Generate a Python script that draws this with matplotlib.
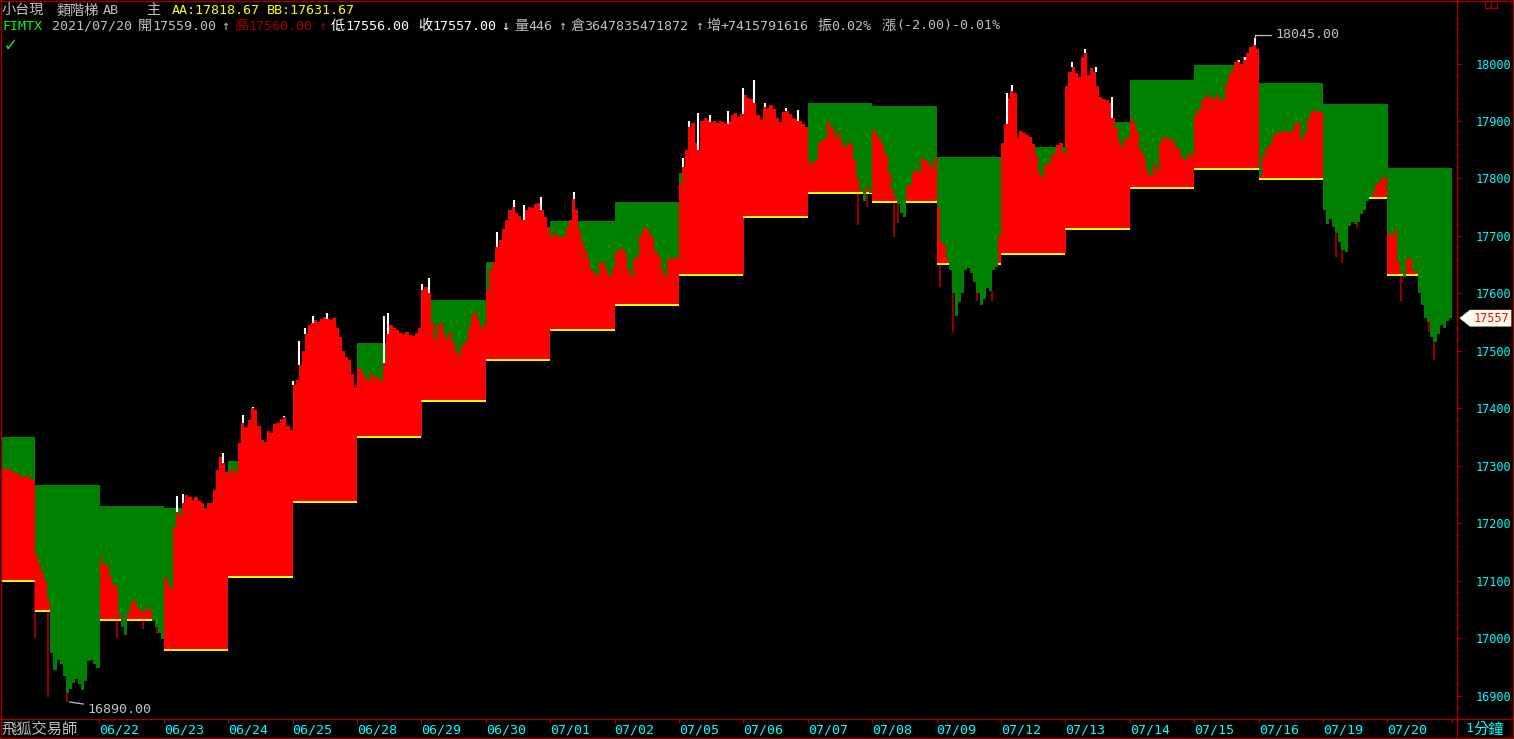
import numpy as np
import matplotlib
matplotlib.use("Agg")
import matplotlib.pyplot as plt
from matplotlib import font_manager as fm
from matplotlib.lines import Line2D
from matplotlib.patches import Polygon, Rectangle

# ---------------- data ----------------
dates = ['06/22', '06/23', '06/24', '06/25', '06/28', '06/29', '06/30', '07/01', '07/02',
         '07/05', '07/06', '07/07', '07/08', '07/09', '07/12', '07/13', '07/14', '07/15',
         '07/16', '07/19', '07/20']

aa_levels = [17350, 17266, 17231, 17226, 17309, 17430, 17513, 17588, 17655, 17726, 17759,
             17809, 17860, 17932, 17926, 17837, 17854, 17898, 17971, 17997, 17966, 17929, 17818.67]
bb_levels = [17100, 17048, 17032, 16979, 17106, 17237, 17350, 17413, 17484, 17536, 17580,
             17632, 17733, 17775, 17759, 17651, 17669, 17712, 17783, 17816, 17799, 17766, 17631.67]

c00 = [17294, 17294, 17290, 17286, 17281, 17283, 17276]
c01 = [17145, 17130, 17115, 17100, 17065, 16975, 16945, 16962, 16955, 16935, 16905, 16912, 16922, 16930, 16920, 16910, 16925, 16960, 16962, 16955, 16948]
c02 = [17142, 17130, 17125, 17107, 17095, 17090, 17040, 17020, 17005, 17044, 17060, 17067, 17055, 17050, 17046, 17055, 17050, 17030, 17020, 17010, 16998]
c03 = [17107, 17095, 17085, 17194, 17220, 17212, 17235, 17250, 17245, 17240, 17246, 17238, 17235, 17225, 17235, 17236, 17258, 17293, 17315, 17305, 17290]
c04 = [17290, 17297, 17288, 17340, 17375, 17368, 17380, 17400, 17397, 17370, 17345, 17342, 17360, 17357, 17372, 17375, 17382, 17385, 17370, 17362]
c05 = [17440, 17449, 17475, 17500, 17530, 17545, 17548, 17553, 17550, 17555, 17559, 17556, 17553, 17558, 17540, 17525, 17500, 17490, 17484, 17460, 17437]
c06 = [17470, 17467, 17455, 17448, 17461, 17452, 17455, 17448, 17479, 17530, 17545, 17540, 17536, 17532, 17530, 17533, 17528, 17526, 17532, 17540]
c07 = [17606, 17612, 17600, 17548, 17520, 17545, 17548, 17530, 17520, 17533, 17515, 17500, 17492, 17510, 17518, 17540, 17560, 17568, 17553, 17540, 17545]
c08 = [17606, 17640, 17653, 17680, 17693, 17712, 17728, 17745, 17750, 17740, 17735, 17728, 17745, 17750, 17748, 17755, 17757, 17745, 17733, 17715]
c09 = [17698, 17705, 17702, 17698, 17700, 17716, 17728, 17765, 17745, 17710, 17690, 17675, 17660, 17641, 17635, 17630, 17655, 17653, 17640, 17630, 17645]
c10 = [17672, 17675, 17679, 17670, 17640, 17630, 17660, 17664, 17700, 17710, 17713, 17705, 17698, 17672, 17664, 17640, 17630, 17658, 17664, 17660, 17662]
c11 = [17790, 17820, 17850, 17890, 17896, 17862, 17850, 17900, 17905, 17902, 17898, 17900, 17896, 17900, 17898, 17895, 17900, 17910, 17914, 17907, 17912]
c12 = [17945, 17940, 17938, 17932, 17910, 17902, 17925, 17922, 17928, 17920, 17905, 17898, 17915, 17917, 17912, 17906, 17903, 17900, 17895, 17890]
c13 = [17830, 17826, 17832, 17861, 17867, 17870, 17898, 17890, 17872, 17881, 17867, 17855, 17862, 17860, 17832, 17800, 17778, 17760, 17785, 17775]
c14 = [17885, 17875, 17870, 17860, 17843, 17810, 17780, 17768, 17755, 17740, 17733, 17785, 17791, 17809, 17815, 17812, 17835, 17832, 17828, 17820, 17835]
c15 = [17750, 17690, 17685, 17660, 17640, 17600, 17560, 17585, 17600, 17640, 17645, 17635, 17620, 17600, 17580, 17590, 17610, 17605, 17640, 17646, 17700]
c16 = [17862, 17895, 17940, 17953, 17948, 17870, 17882, 17879, 17875, 17872, 17860, 17840, 17810, 17803, 17826, 17826, 17838, 17844, 17858, 17861, 17845]
c17 = [17960, 17985, 17994, 17983, 17977, 18011, 18018, 17980, 17992, 17985, 17960, 17942, 17938, 17936, 17931, 17905, 17890, 17865, 17855, 17868, 17870]
c18 = [17904, 17895, 17880, 17850, 17838, 17815, 17805, 17825, 17815, 17862, 17872, 17870, 17868, 17865, 17855, 17849, 17835, 17832, 17845, 17840]
c19 = [17910, 17919, 17936, 17942, 17945, 17940, 17938, 17945, 17935, 17938, 17965, 17980, 17989, 18003, 18006, 18000, 18011, 18018, 18028, 18032, 18025]
c20 = [17805, 17838, 17852, 17858, 17872, 17879, 17880, 17881, 17882, 17880, 17883, 17895, 17898, 17870, 17880, 17903, 17915, 17919, 17916, 17915]
c21 = [17745, 17720, 17730, 17716, 17705, 17690, 17675, 17672, 17718, 17725, 17720, 17725, 17738, 17745, 17760, 17768, 17775, 17790, 17794, 17800, 17805]
c22 = [17705, 17700, 17710, 17655, 17635, 17628, 17662, 17660, 17640, 17638, 17600, 17580, 17558, 17550, 17525, 17515, 17530, 17545, 17540, 17552, 17557]

segments = [c00, c01, c02, c03, c04, c05, c06, c07, c08, c09, c10, c11, c12, c13, c14,
            c15, c16, c17, c18, c19, c20, c21, c22]

# upper shadows (white) and lower shadows (dark red) seen on the chart: position in days, price
wick_hi_day = [2.200, 2.298, 2.919, 3.230, 3.385, 3.866, 4.002, 4.099, 4.193, 4.317, 4.529,
               5.419, 5.481, 6.005, 6.113, 7.169, 7.438, 7.593, 7.853, 8.370, 10.062, 10.155,
               10.295, 10.481, 10.761, 10.998, 11.165, 11.335, 11.661, 11.852, 15.088, 15.166,
               16.098, 16.304, 16.475, 16.719, 18.696, 18.789, 18.944]
wick_hi = [17248, 17251, 17323, 17388, 17402, 17386, 17448, 17518, 17540, 17561, 17566,
           17560, 17566, 17616, 17627, 17707, 17762, 17754, 17768, 17777, 17836, 17900,
           17914, 17911, 17918, 17957, 17971, 17932, 17923, 17919, 17948, 17963,
           18003, 18026, 17994, 17942, 18003, 18006, 18045]
wick_lo_day = [0.000, 0.202, 0.492, 1.269, 1.682, 1.890, 12.784, 12.915, 13.343, 13.405,
               14.053, 14.259, 14.623, 14.856, 20.197, 20.290, 20.532, 21.206, 21.650, 21.723]
wick_lo = [17000, 16898, 16890, 17000, 17017, 17008, 17719, 17751, 17699, 17722,
           17612, 17533, 17587, 17586, 17664, 17653, 17714, 17586, 17533, 17484]

high_value = 18045.00
low_value = 16890.00
last_close = 17557

# ---------------- fonts / colors ----------------
def has_font(name):
    try:
        fm.findfont(fm.FontProperties(family=name), fallback_to_default=False)
        return True
    except Exception:
        return False

MONO = ['DejaVu Sans Mono', 'Noto Sans CJK TC']
CJK = ['Noto Sans CJK TC', 'DejaVu Sans Mono']

RED = '#FF0000'
GREEN = '#008000'
YELLOW = '#FFFF00'
CYAN = '#00FFFF'
GRAY = '#C0C0C0'
FRAME = '#A00000'
DARKRED = '#8B0000'

W, H = 1514, 739
fig = plt.figure(figsize=(W / 100, H / 100), dpi=100, facecolor='black')

# axes: pixel x 2..1457, pixel y 2..719
ax = fig.add_axes([2 / W, (H - 719) / H, 1455 / W, 717 / H])
ax.set_facecolor('black')

# ---------------- build series ----------------
X, Wd, C, A, B = [], [], [], [], []
seg_bounds = []
for k, vals in enumerate(segments):
    d = k - 1
    if k == 0:
        x0, span = -0.52, 0.52
    else:
        x0, span = float(d), 1.0
    n = len(vals)
    xs = x0 + span * np.arange(n) / n
    X.extend(xs)
    Wd.extend([span / n] * n)
    C.extend(vals)
    A.extend([aa_levels[k]] * n)
    B.extend([bb_levels[k]] * n)
    seg_bounds.append((x0, x0 + span))
X = np.array(X); Wd = np.array(Wd); C = np.array(C, float)
A = np.array(A, float); B = np.array(B, float)

# lower shadows beneath everything (only visible below the bars)
idx_lo = np.clip(np.searchsorted(X, wick_lo_day, side='right') - 1, 0, len(X) - 1)
ax.vlines(wick_lo_day, wick_lo, C[idx_lo], colors=DARKRED, linewidth=1.6, zorder=1)

m = C > B
ax.bar(X[m], C[m] - B[m], bottom=B[m], width=Wd[m] * 1.06, align='edge',
       color=RED, linewidth=0, antialiased=False, zorder=2)
starts = [s for s, e in seg_bounds]
ends = [e for s, e in seg_bounds]
ax.hlines(bb_levels, starts, ends, colors=YELLOW, linewidth=1.4, zorder=3)
m = C < A
ax.bar(X[m], A[m] - C[m], bottom=C[m], width=Wd[m] * 1.06, align='edge',
       color=GREEN, linewidth=0, antialiased=False, zorder=4)

# upper shadows in white
idx_hi = np.clip(np.searchsorted(X, wick_hi_day, side='right') - 1, 0, len(X) - 1)
ax.vlines(wick_hi_day, C[idx_hi], wick_hi, colors='white', linewidth=1.5, zorder=5)

# ---------------- axes ----------------
ax.set_xlim(-0.512, 22.08)
ax.set_ylim(16859.6, 18107)

for s in ax.spines.values():
    s.set_visible(False)

ax.yaxis.tick_right()
ax.set_yticks(np.arange(16900, 18001, 100))
ax.set_yticks(np.arange(16860, 18101, 20), minor=True)
ax.tick_params(axis='y', which='major', direction='out', length=3.6, width=0.9,
               color=FRAME, labelcolor=CYAN, pad=10.0, labelsize=8.6)
ax.tick_params(axis='y', which='minor', direction='out', length=1.6, width=0.9, color=FRAME)
for lab in ax.get_yticklabels():
    lab.set_family(MONO)

ax.set_xticks(list(range(1, len(dates) + 2)))
ax.set_xticklabels(dates + [''])
ax.tick_params(axis='x', which='major', direction='out', length=3, width=0.9,
               color=FRAME, labelcolor=CYAN, pad=0.5, labelsize=9.6)
for lab in ax.get_xticklabels():
    lab.set_family(MONO)
    lab.set_horizontalalignment('left')

# ---------------- frame lines ----------------
def fline(x0, y0, x1, y1, color=FRAME, lw=1.0):
    fig.add_artist(Line2D([x0 / W, x1 / W], [1 - y0 / H, 1 - y1 / H], color=color, lw=lw))

fline(0.5, 0.8, 1513.5, 0.8)
fline(0.8, 0, 0.8, 739)
fline(1512.8, 0, 1512.8, 739)
fline(0, 738.3, 1514, 738.3)
fline(0, 719.3, 1514, 719.3)
fline(1457.3, 0, 1457.3, 739)
# small window icon at top right
fig.add_artist(Rectangle((1485 / W, 1 - 8 / H), 12 / W, 7 / H, fill=False, edgecolor=FRAME, lw=0.9))
fline(1491, 1, 1491, 8)

# ---------------- header texts ----------------
def T(x, y, s, color, size=9.6, family=MONO, **kw):
    fig.text(x / W, 1 - y / H, s, color=color, fontsize=size, family=family,
             va='center', ha='left', **kw)

T(1, 10, '小台現', GRAY, 10.2, CJK)
T(57, 10, '類階梯', GRAY, 10.2, CJK)
T(103, 10, 'AB', GRAY)
T(146, 10, '主', GRAY, 10.2, CJK)
T(172, 10, 'AA:17818.67', YELLOW)
T(267, 10, 'BB:17631.67', YELLOW)

T(2, 26, 'FIMTX', '#00FF00')
T(52, 26, '2021/07/20', GRAY)
T(138, 26, '開', GRAY, 10.2, CJK)
T(152, 26, '17559.00', GRAY)
T(221, 26, '↑', GRAY)
T(234, 26, '高', '#A00000', 10.2, CJK)
T(248, 26, '17560.00', '#A00000')
T(318, 26, '↑', '#A00000')
T(331, 26, '低', 'white', 10.2, CJK)
T(345, 26, '17556.00', 'white')
T(418, 26, '收', 'white', 10.2, CJK)
T(432, 26, '17557.00', 'white')
T(501, 26, '↓', 'white')
T(514, 26, '量', GRAY, 10.2, CJK)
T(528, 26, '446', GRAY)
T(558, 26, '↑', GRAY)
T(570, 26, '倉', GRAY, 10.2, CJK)
T(584, 26, '3647835471872', GRAY)
T(695, 26, '↑', GRAY)
T(706, 26, '增', GRAY, 10.2, CJK)
T(720, 26, '+7415791616', GRAY)
T(817, 26, '振', GRAY, 10.2, CJK)
T(831, 26, '0.02%', GRAY)
T(882, 26, '漲', GRAY, 10.2, CJK)
T(896, 26, '(-2.00)-0.01%', GRAY)

fig.text(3 / W, 1 - 46 / H, '✓', color='#00FF00', fontsize=12, family='DejaVu Sans',
         fontweight='bold', va='center', ha='left')

T(1, 729, '飛狐交易師', GRAY, 11, CJK)
T(1465, 729, '1', CYAN, 9.6, MONO)
T(1473, 729, '分鐘', CYAN, 11, CJK)

# ---------------- high / low annotations ----------------
hx = 18.944
ax.annotate(f'{high_value:.2f}', xy=(hx, high_value), xytext=(20, 3), textcoords='offset pixels',
            color=GRAY, fontsize=9.6, family=MONO, va='center', ha='left',
            arrowprops=dict(arrowstyle='-', color=GRAY, lw=0.9, shrinkA=1, shrinkB=0,
                            connectionstyle='angle,angleA=0,angleB=90,rad=0'), zorder=6)
lx = 0.492
ax.annotate(f'{low_value:.2f}', xy=(lx, low_value), xytext=(21, -8), textcoords='offset pixels',
            color=GRAY, fontsize=9.6, family=MONO, va='center', ha='left',
            arrowprops=dict(arrowstyle='-', color=GRAY, lw=0.9, shrinkA=1, shrinkB=2), zorder=6)

# ---------------- last price marker ----------------
fig.canvas.draw()
ypix = ax.transData.transform((0, last_close))[1]
yt = H - ypix  # top-based
poly = [(1460, yt), (1470, yt - 8), (1511, yt - 8), (1511, yt + 8), (1470, yt + 8)]
fig.add_artist(Polygon([(px / W, 1 - py / H) for px, py in poly], closed=True,
                       facecolor='#FFFFF0', edgecolor='#FFFFF0', lw=0.5))
T(1474, yt, f'{last_close}', RED, 8.6, MONO)

fig.savefig('out.png', dpi=100, facecolor='black')
